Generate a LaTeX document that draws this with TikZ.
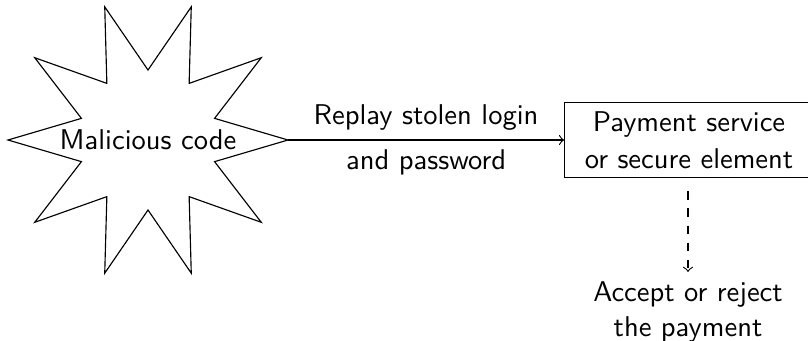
\documentclass[tikz,border=0pt]{standalone}
\begin{document}
\begin{tikzpicture}[x=0.35pt,y=-0.35pt,font=\sffamily,
  lbl/.style={inner sep=3.33pt},
  boxnode/.style={draw,align=center,minimum width=87pt,minimum height=25.9pt,inner sep=3.33pt},
  flow/.style={->},
  result/.style={->,dashed}]
\useasboundingbox (0,0) rectangle (808,340);
% star burst
\draw[shift={(148,140)}] (0:140)
  \foreach \k in {1,...,9} { -- ({\k*36-18}:70) -- ({\k*36}:140) } -- (342:70) -- cycle;
\node (mal) at (148,140) {Malicious code};
\coordinate (tip) at (288,140);
\node[boxnode] (pay) at (689,140) {Payment service\\[0.8pt] or secure element};
\node[align=center,anchor=north] (acc) at (688,272) {Accept or reject\\ the payment};
\draw[flow] (tip) -- (pay)
  node[midway,above,lbl] {Replay stolen login}
  node[midway,below,lbl] {and password};
\draw[result,shorten <=4.5pt] (pay.south -| acc.north) -- (acc.north);
\end{tikzpicture}
\end{document}
